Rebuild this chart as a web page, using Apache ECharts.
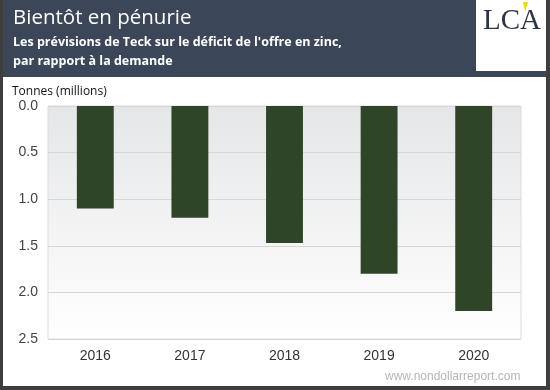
<!DOCTYPE html>
<html><head><meta charset="utf-8">
<script src="https://cdn.jsdelivr.net/npm/echarts@6/dist/echarts.min.js"></script>
<style>html,body{margin:0;padding:0;background:#fff}#c{width:550px;height:390px}</style>
</head><body><div id="c"></div>
<script>
const categories = ['2016', '2017', '2018', '2019', '2020'];
const deficit = [1.1, 1.2, 1.47, 1.8, 2.2];
const yTicks = [0, 0.5, 1.0, 1.5, 2.0, 2.5];

const chart = echarts.init(document.getElementById('c'), null, {renderer: 'canvas'});
chart.setOption({
  animation: false,
  backgroundColor: '#fff',
  grid: {
    left: 48, right: 29, top: 106, bottom: 51,
    show: true,
    borderColor: '#dcdcdc', borderWidth: 1,
    backgroundColor: new echarts.graphic.LinearGradient(0, 0, 0, 1, [
      {offset: 0, color: '#e5e6e8'}, {offset: 1, color: '#ffffff'}
    ])
  },
  xAxis: {
    type: 'category', data: categories,
    axisLine: {show: false}, axisTick: {show: false},
    axisLabel: {color: '#333', fontFamily: 'Liberation Sans, Arial', fontSize: 14, margin: 10}
  },
  yAxis: {
    type: 'value', inverse: true, min: yTicks[0], max: yTicks[yTicks.length - 1], interval: 0.5,
    axisLine: {show: false}, axisTick: {show: false},
    splitLine: {lineStyle: {color: '#d6d6d6', width: 1}},
    axisLabel: {color: '#444', fontFamily: 'Liberation Sans, Arial', fontSize: 14, margin: 10,
      formatter: v => v.toFixed(1)}
  },
  series: [{
    type: 'bar', data: deficit, barWidth: '39%',
    itemStyle: {color: '#2f4528'}
  }],
  graphic: [
    {type: 'rect', left: 0, top: 0, shape: {width: 550, height: 77}, style: {fill: '#3b4759'}, z: 0},
    {type: 'rect', left: 0, top: 0, shape: {width: 3, height: 390}, style: {fill: '#3e3e3e'}},
    {type: 'rect', left: 546, top: 0, shape: {width: 4, height: 390}, style: {fill: '#3e3e3e'}},
    {type: 'rect', left: 0, top: 386, shape: {width: 550, height: 4}, style: {fill: '#3e3e3e'}},
    {type: 'text', left: 13, top: 8, style: {text: 'Bientôt en pénurie', fill: '#fff',
      font: '500 20.5px "Open Sans", "Noto Sans", sans-serif'}},
    {type: 'text', left: 13, top: 36, style: {text: "Les prévisions de Teck sur le déficit de l'offre en zinc,", fill: '#fff',
      font: 'bold 12.5px "Open Sans", "Noto Sans", sans-serif'}},
    {type: 'text', left: 13, top: 55, style: {text: 'par rapport à la demande', fill: '#fff',
      font: 'bold 12.5px "Open Sans", "Noto Sans", sans-serif'}},
    {type: 'rect', left: 476, top: 0, shape: {width: 70, height: 71}, style: {fill: '#fff'}},
    {type: 'polygon', shape: {points: [[523, 2], [528, 2], [525, 12]]}, style: {fill: '#f2dc00'}},
    {type: 'text', left: 483, top: 7, style: {text: 'LCA', fill: '#2d3648',
      font: '29px "Liberation Serif", "DejaVu Serif", serif'}},
    {type: 'text', left: 12, top: 86, style: {text: 'Tonnes (millions)', fill: '#111',
      font: '12px "Open Sans", "Noto Sans", sans-serif'}},
    {type: 'text', left: 385, top: 371, style: {text: 'www.nondollarreport.com', fill: '#b5b5b5',
      font: '12px "Liberation Sans", Arial, sans-serif'}}
  ]
});
</script></body></html>
